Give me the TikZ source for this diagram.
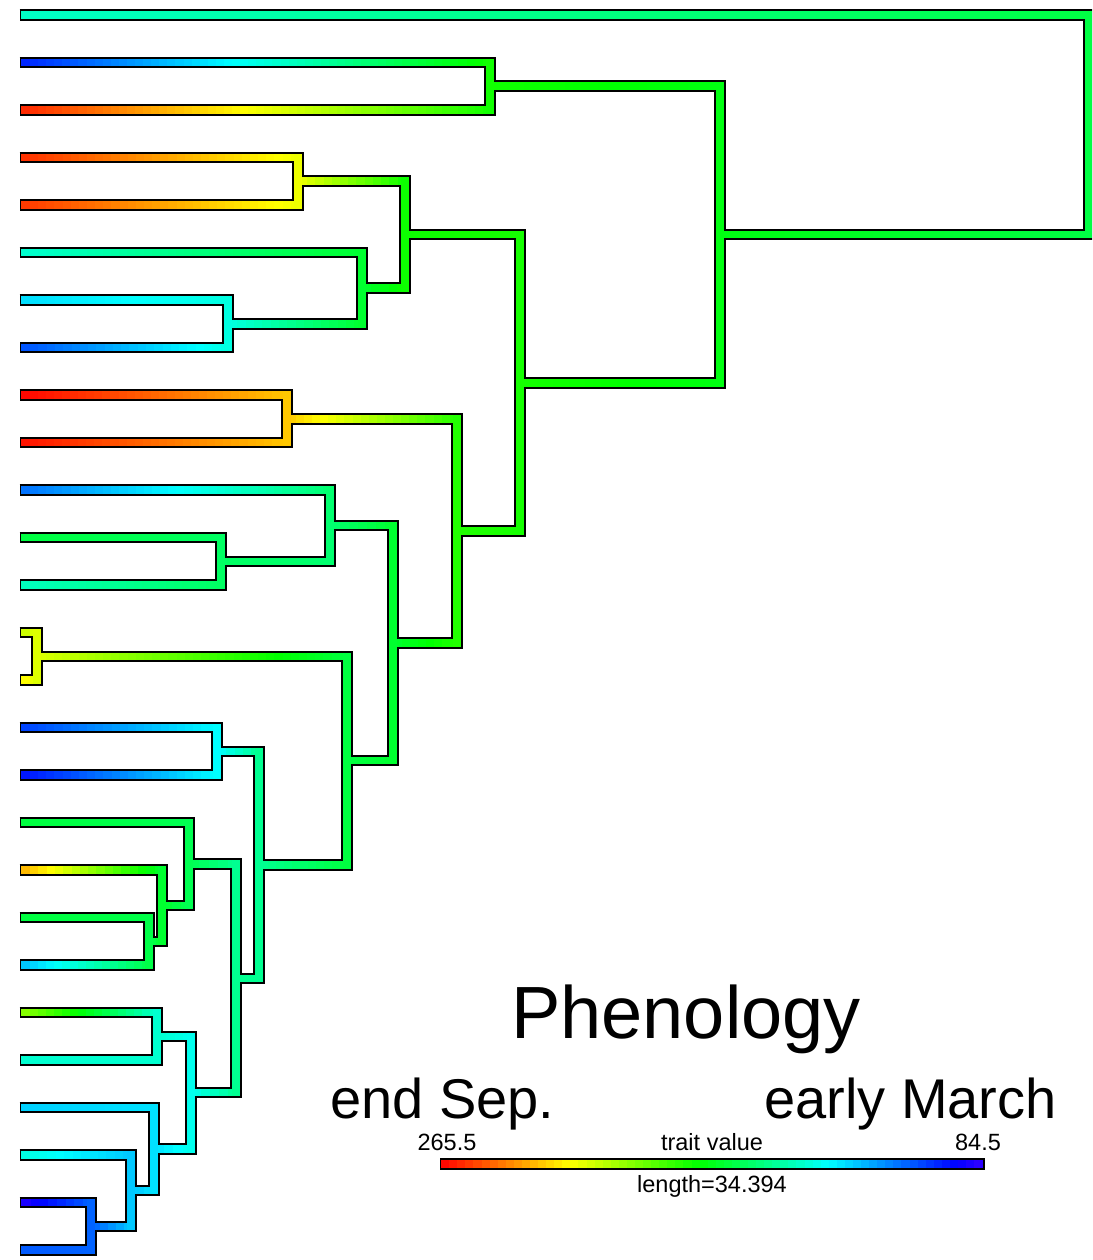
\documentclass[tikz,border=0pt]{standalone}
\usepackage{fontspec}
\setmainfont{Liberation Sans}

\newcount\treepass

% one branch, hue running along it in small steps
\newcommand{\huebar}[5]{%
  \pgfmathtruncatemacro{\nseg}{max(2,abs(#2-#1)/8)}
  \pgfmathsetmacro{\segw}{(#2-#1)/\nseg}
  \pgfmathsetmacro{\segh}{(#5-#4)/\nseg}
  \foreach \k in {1,...,\nseg}{
    \pgfmathsetmacro{\sxa}{#1+\segw*(\k-1.1)}
    \pgfmathsetmacro{\sxb}{#1+\segw*\k}
    \pgfmathsetmacro{\shue}{#4+\segh*(\k-0.5)}
    \definecolor{segcol}{Hsb}{\shue,1,1}
    \draw[core, segcol] (\sxa,#3) -- (\sxb,#3);
  }
}

% node x, node hue, child 1 (x,y,hue), child 2 (x,y,hue)
\newcommand{\clade}[8]{%
  \ifcase\treepass
    \draw[rim] (#3-1.5,#4) -- (#1,#4) -- (#1,#7) -- (#6-1.5,#7);
  \or
    \huebar{#1}{#3}{#4}{#2}{#5}
    \huebar{#1}{#6}{#7}{#2}{#8}
  \else
    \definecolor{nodecol}{Hsb}{#2,1,1}
    \draw[core, nodecol, line cap=rect] (#1,#4) -- (#1,#7);
  \fi
}

\newcommand{\treedata}{%
  \clade{1088.5}{136}{21}{15}{167}{720}{234.53}{124}
  \clade{720}{124}{490}{86.25}{116}{520}{382.8}{115}
  \clade{490}{116}{21}{62.5}{232}{21}{110}{9}
  \clade{520}{115}{405}{234.69}{117}{457}{530.91}{112}
  \clade{405}{117}{298}{181.25}{64}{362}{288.13}{131}
  \clade{298}{64}{21}{157.5}{11}{21}{205}{13}
  \clade{362}{131}{21}{252.5}{169}{228}{323.75}{173}
  \clade{228}{173}{21}{300}{188}{21}{347.5}{221}
  \clade{457}{112}{287}{418.75}{47}{393}{643.08}{131}
  \clade{287}{47}{21}{395}{1}{21}{442.5}{4}
  \clade{393}{131}{330}{525.63}{146}{347}{760.53}{135}
  \clade{330}{146}{21}{490}{214}{221}{561.25}{143}
  \clade{221}{143}{21}{537.5}{135}{21}{585}{165}
  \clade{347}{135}{37}{656.25}{68}{259}{864.8}{154}
  \clade{37}{68}{21}{632.5}{73}{21}{680}{57}
  \clade{259}{154}{217}{751.25}{180}{236}{978.36}{154}
  \clade{217}{180}{21}{727.5}{225}{21}{775}{236}
  \clade{236}{154}{189}{864.06}{139}{191}{1092.66}{176}
  \clade{189}{139}{21}{822.5}{135}{162}{905.63}{131}
  \clade{162}{131}{21}{870}{41}{149}{941.25}{137}
  \clade{149}{137}{21}{917.5}{135}{21}{965}{195}
  \clade{191}{176}{157}{1036.25}{169}{154}{1149.06}{187}
  \clade{157}{169}{21}{1012.5}{86}{21}{1060}{169}
  \clade{154}{187}{21}{1107.5}{191}{131}{1190.63}{193}
  \clade{131}{193}{21}{1155}{173}{91}{1226.25}{217}
  \clade{91}{217}{21}{1202.5}{248}{21}{1250}{219}
}

\begin{document}
\begin{tikzpicture}[x=1pt, y=-1pt,
  rim/.style={line width=11.5pt, black},
  core/.style={line width=7.5pt},
  lab/.style={inner sep=0, anchor=base}]
\clip (0,0) rectangle (1092,1260);

\treepass=0\relax \treedata
\treepass=1\relax \treedata
\treepass=2\relax \treedata

\node[lab, font=\fontsize{74}{80}\selectfont] (title) at (686,1038) {Phenology};
\node[lab, anchor=base west, font=\fontsize{56}{60}\selectfont] (lowend) at (330,1118) {end Sep.};
\node[lab, anchor=base west, font=\fontsize{56}{60}\selectfont] (highend) at (764,1118) {early March};

% colour bar
\draw[rim] (440,1164) -- (985,1164);
\huebar{442}{983}{1164}{0}{252}
\node[lab, font=\fontsize{23.5}{26}\selectfont] (minval) at (447,1150) {265.5};
\node[lab, font=\fontsize{23.5}{26}\selectfont] (barname) at (712,1150) {trait value};
\node[lab, font=\fontsize{23.5}{26}\selectfont] (maxval) at (978,1150) {84.5};
\node[lab, font=\fontsize{23.5}{26}\selectfont] (barlen) at (712,1192) {length=34.394};
\end{tikzpicture}
\end{document}
